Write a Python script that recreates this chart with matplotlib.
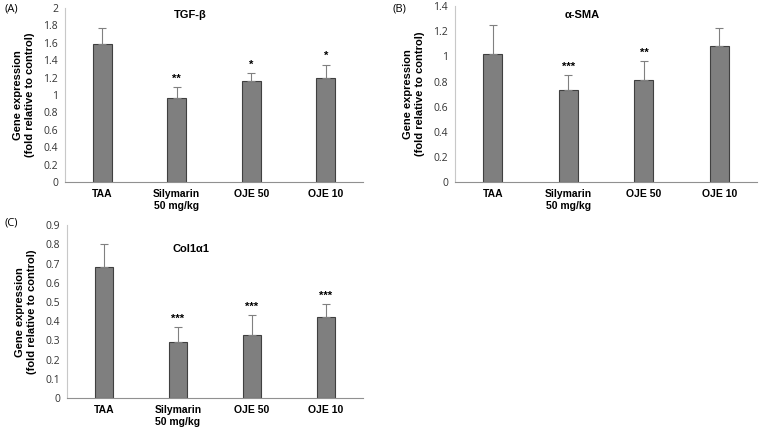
import numpy as np
import matplotlib
matplotlib.use("Agg")
import matplotlib.pyplot as plt

plt.rcParams['font.family'] = ['Liberation Sans', 'DejaVu Sans']

groups = ['TAA', 'Silymarin\n50 mg/kg', 'OJE 50', 'OJE 10']

tgf_mean = [1.59, 0.97, 1.16, 1.19]
tgf_err = [0.18, 0.12, 0.09, 0.16]
tgf_sig = ['', '**', '*', '*']

sma_mean = [1.02, 0.73, 0.81, 1.08]
sma_err = [0.23, 0.12, 0.15, 0.15]
sma_sig = ['', '***', '**', '']

col_mean = [0.68, 0.29, 0.33, 0.42]
col_err = [0.12, 0.08, 0.10, 0.07]
col_sig = ['', '***', '***', '***']

fig = plt.figure(figsize=(7.61, 4.30), dpi=100)


def panel(rect, means, errs, sig, ymax, step, title, title_y, label, label_xy):
    ax = fig.add_axes(rect)
    x = np.arange(len(groups))
    ax.bar(x, means, width=0.25, color='#7f7f7f', edgecolor='#404040', linewidth=0.8)
    ax.errorbar(x, means, yerr=[np.zeros(len(errs)), errs], fmt='none',
                ecolor='#808080', elinewidth=0.8, capsize=3, capthick=0.8)
    for xi, m, e, s in zip(x, means, errs, sig):
        if s:
            ax.text(xi, m + e + ymax * 0.02, s, ha='center', va='bottom',
                    fontsize=8, fontweight='bold')
    ax.set_xlim(-0.5, len(groups) - 0.5)
    ax.set_ylim(0, ymax)
    ticks = np.round(np.arange(0, ymax + step / 2, step), 2)
    ax.set_yticks(ticks)
    ax.set_yticklabels(['%g' % t for t in ticks], fontsize=7.5, color='#333333',
                       family='Open Sans')
    ax.set_xticks(x)
    ax.set_xticklabels(groups, fontsize=7.5, fontweight='bold')
    ax.tick_params(axis='both', length=0, pad=5)
    for s in ['top', 'right']:
        ax.spines[s].set_visible(False)
    ax.spines['left'].set_color('#c8c8c8')
    ax.spines['bottom'].set_color('#909090')
    ax.text(0.42, title_y, title, transform=ax.transAxes, ha='center',
            va='center', fontsize=8, fontweight='bold')
    ax.set_ylabel('Gene expression\n(fold relative to control)', fontsize=8,
                  fontweight='bold', labelpad=6)
    fig.text(label_xy[0], label_xy[1], label, fontsize=8, ha='left', va='top',
             family='Open Sans')
    return ax


panel([0.0854, 0.5767, 0.3916, 0.4047], tgf_mean, tgf_err, tgf_sig, 2.0, 0.2,
      'TGF-β', 0.96, '(A)', (0.006, 0.992))
panel([0.598, 0.5767, 0.397, 0.409], sma_mean, sma_err, sma_sig, 1.4, 0.2,
      'α-SMA', 0.95, '(B)', (0.516, 0.992))
panel([0.088, 0.0744, 0.389, 0.402], col_mean, col_err, col_sig, 0.9, 0.1,
      'Col1α1', 0.86, '(C)', (0.006, 0.495))

fig.savefig('out.png', dpi=100)
